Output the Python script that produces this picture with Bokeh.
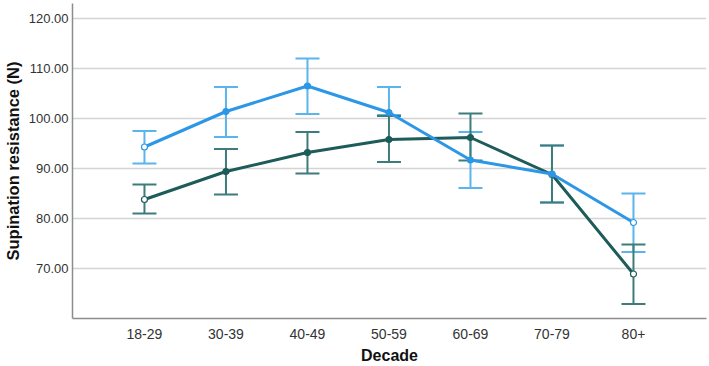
from bokeh.plotting import figure
from bokeh.models import ColumnDataSource, Whisker, TeeHead, FixedTicker, Range1d
from bokeh.embed import file_html
from bokeh.resources import INLINE

# Age groups on the x axis
decades = ["18-29", "30-39", "40-49", "50-59", "60-69", "70-79", "80+"]

# Group A (light blue): means and error-bar limits
a_mean = [94.3, 101.4, 106.5, 101.2, 91.7, 88.9, 79.2]
a_low = [91.0, 96.3, 100.9, 100.7, 86.1, 83.2, 73.3]
a_high = [97.5, 106.3, 112.0, 106.3, 97.3, 94.6, 85.0]

# Group B (dark teal): means and error-bar limits
b_mean = [83.8, 89.4, 93.2, 95.8, 96.2, 88.8, 68.9]
b_low = [81.0, 84.8, 89.0, 91.3, 91.6, 83.2, 62.9]
b_high = [86.8, 93.9, 97.3, 100.5, 101.0, 94.6, 74.8]

y_ticks = [70, 80, 90, 100, 110, 120]

A_LINE, A_BAR = "#2b97e6", "#5ab4ee"
B_LINE, B_BAR = "#1d5c58", "#3d7c7a"
FONT = "Liberation Sans"

xs = list(range(len(decades)))
src_a = ColumnDataSource(dict(x=xs, mean=a_mean, low=a_low, high=a_high,
                              fill=["white"] + [A_LINE] * 5 + ["white"]))
src_b = ColumnDataSource(dict(x=xs, mean=b_mean, low=b_low, high=b_high,
                              fill=["white"] + [B_LINE] * 5 + ["white"]))

p = figure(width=709, height=366, output_backend="svg", toolbar_location=None,
           x_range=Range1d(-0.883, 6.896), y_range=Range1d(60, 123),
           min_border_left=0, min_border_right=3, min_border_top=3,
           min_border_bottom=0)
p.outline_line_color = None
p.background_fill_color = "white"
p.border_fill_color = "white"

# error bars
for src, col in ((src_a, A_BAR), (src_b, B_BAR)):
    w = Whisker(source=src, base="x", lower="low", upper="high",
                line_color=col, line_width=2,
                upper_head=TeeHead(size=24, line_color=col, line_width=2),
                lower_head=TeeHead(size=24, line_color=col, line_width=2))
    p.add_layout(w)

# mean lines and markers
p.line("x", "mean", source=src_b, line_color=B_LINE, line_width=3)
p.scatter("x", "mean", source=src_b, size=6, line_color=B_LINE,
          fill_color="fill", line_width=1.2)
p.line("x", "mean", source=src_a, line_color=A_LINE, line_width=3)
p.scatter("x", "mean", source=src_a, size=6, line_color=A_LINE,
          fill_color="fill", line_width=1.2)

# axes
p.xaxis.ticker = FixedTicker(ticks=xs)
p.xaxis.major_label_overrides = {i: d for i, d in enumerate(decades)}
p.yaxis.ticker = FixedTicker(ticks=y_ticks)
p.yaxis.major_label_overrides = {t: f"{t:.2f}" for t in y_ticks}

for ax in (p.xaxis[0], p.yaxis[0]):
    ax.axis_line_color = "#8c8c8c"
    ax.axis_line_width = 1.5
    ax.major_tick_line_color = None
    ax.minor_tick_line_color = None
    ax.major_tick_out = 0
    ax.major_tick_in = 0
    ax.minor_tick_out = 0
    ax.minor_tick_in = 0
    ax.major_label_text_font = FONT
    ax.major_label_text_color = "#333333"
    ax.axis_label_text_font = FONT
    ax.axis_label_text_font_style = "bold"
    ax.axis_label_text_color = "#111111"

p.xaxis.major_label_text_font_size = "14px"
p.yaxis.major_label_text_font_size = "13px"
p.xaxis.axis_label = "Decade"
p.xaxis.axis_label_text_font_size = "16px"
p.xaxis.major_label_standoff = 10
p.xaxis.axis_label_standoff = 5
p.yaxis.axis_label = "Supination resistance (N)"
p.yaxis.axis_label_text_font_size = "16.5px"
p.yaxis.major_label_standoff = 4
p.yaxis.axis_label_standoff = 4

p.xgrid.grid_line_color = None
p.ygrid.grid_line_color = "#d4d4d4"
p.ygrid.grid_line_width = 1.5

open("out.html", "w").write(file_html(p, INLINE))
